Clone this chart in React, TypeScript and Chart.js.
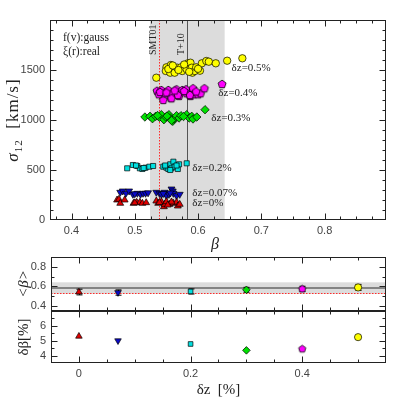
import React, { useEffect, useRef } from 'react';
import { Chart, registerables } from 'chart.js';
Chart.register(...registerables);

// ---------- Top panel data: sigma_12 vs beta ----------
const dz0Beta = [0.472, 0.475, 0.477, 0.484, 0.498, 0.503, 0.508, 0.512, 0.518, 0.534, 0.537, 0.542, 0.546, 0.547, 0.550, 0.555, 0.561, 0.566, 0.568, 0.571, 0.500, 0.539, 0.558, 0.552];
const dz0Sigma = [200, 207, 167, 200, 167, 177, 177, 167, 173, 190, 167, 183, 133, 157, 183, 157, 167, 177, 140, 157, 172, 175, 180, 150];

const dz007Beta = [0.477, 0.481, 0.486, 0.491, 0.497, 0.504, 0.509, 0.513, 0.517, 0.534, 0.539, 0.542, 0.547, 0.550, 0.554, 0.558, 0.560, 0.561, 0.566, 0.571, 0.500, 0.521, 0.545, 0.556];
const dz007Sigma = [277, 290, 267, 290, 257, 267, 257, 267, 267, 277, 267, 257, 277, 243, 257, 310, 290, 267, 243, 257, 262, 272, 265, 270];

const dz02Beta = [0.488, 0.497, 0.504, 0.508, 0.512, 0.517, 0.523, 0.529, 0.545, 0.550, 0.553, 0.556, 0.558, 0.561, 0.563, 0.568, 0.570, 0.582, 0.556, 0.548, 0.502, 0.514, 0.566];
const dz02Sigma = [517, 550, 540, 517, 510, 523, 533, 540, 533, 523, 510, 557, 517, 583, 533, 510, 557, 567, 500, 545, 545, 520, 545];

const dz03Beta = [0.516, 0.524, 0.528, 0.533, 0.539, 0.542, 0.546, 0.549, 0.554, 0.556, 0.560, 0.562, 0.566, 0.570, 0.573, 0.582, 0.586, 0.590, 0.592, 0.598, 0.611, 0.558, 0.577, 0.551, 0.536];
const dz03Sigma = [1030, 1037, 1013, 1037, 1027, 1053, 1003, 1030, 1053, 1020, 987, 1010, 1043, 1020, 1043, 1053, 1020, 1037, 1010, 1030, 1103, 995, 1035, 1040, 1045];

const dz04Beta = [0.535, 0.538, 0.542, 0.545, 0.547, 0.553, 0.557, 0.559, 0.566, 0.570, 0.575, 0.581, 0.582, 0.588, 0.592, 0.593, 0.600, 0.604, 0.610, 0.638, 0.540, 0.550, 0.558, 0.568, 0.587, 0.597, 0.578, 0.563];
const dz04Sigma = [1293, 1257, 1300, 1200, 1267, 1300, 1223, 1267, 1307, 1240, 1300, 1307, 1267, 1240, 1317, 1257, 1257, 1267, 1317, 1360, 1280, 1275, 1217, 1250, 1250, 1285, 1290, 1295];

const dz05Beta = [0.534, 0.550, 0.549, 0.557, 0.556, 0.563, 0.567, 0.573, 0.575, 0.582, 0.584, 0.588, 0.590, 0.591, 0.595, 0.597, 0.603, 0.606, 0.613, 0.617, 0.628, 0.646, 0.670, 0.553, 0.560, 0.578, 0.586, 0.600, 0.569];
const dz05Sigma = [1423, 1527, 1490, 1550, 1473, 1473, 1523, 1527, 1490, 1507, 1567, 1573, 1523, 1473, 1490, 1527, 1493, 1567, 1590, 1583, 1567, 1593, 1617, 1510, 1545, 1555, 1482, 1512, 1500];

// reference values
const T10Beta = 0.583;
const T10Err = 0.059;
const SMT01Beta = 0.538;

// group labels (anchored in data units)
const groupLabels = ['δz=0%', 'δz=0.07%', 'δz=0.2%', 'δz=0.3%', 'δz=0.4%', 'δz=0.5%'];
const groupLabelBeta = [0.591, 0.591, 0.591, 0.621, 0.632, 0.653];
const groupLabelSigma = [173, 273, 523, 1017, 1267, 1520];

// ---------- Lower panels ----------
const dzValues = [0, 0.07, 0.2, 0.3, 0.4, 0.5];
const meanBeta = [0.543, 0.538, 0.549, 0.566, 0.576, 0.590];
const meanBetaErr = [0.029, 0.027, 0.026, 0.025, 0.026, 0.031];
const deltaBeta = [5.3, 5.0, 4.78, 4.35, 4.46, 5.24];

// tick labels
const topXTicks = [0.4, 0.5, 0.6, 0.7, 0.8];
const topYTicks = [0, 500, 1000, 1500];
const midYTicks = [0.4, 0.6, 0.8];
const botYTicks = [4, 5, 6];
const botXTicks = [0, 0.2, 0.4];

const groupColors = ['#e00000', '#0a0ac8', '#00e0e0', '#00e000', '#ff00ff', '#ffff00'];

const SANS = '"Liberation Sans", Arial, sans-serif';
const SERIF = '"Liberation Serif", "Times New Roman", serif';
const FRAME = '#222';
const RED_DOT = '#ff2a2a';

function makePentagon(r: number, fill: string) {
  const size = Math.ceil(r * 2 + 3);
  const c = document.createElement('canvas');
  c.width = size;
  c.height = size;
  const ctx = c.getContext('2d')!;
  ctx.beginPath();
  for (let i = 0; i < 5; i++) {
    const a = -Math.PI / 2 + (i * 2 * Math.PI) / 5;
    const x = size / 2 + r * Math.cos(a);
    const y = size / 2 + 0.3 + r * Math.sin(a);
    if (i === 0) ctx.moveTo(x, y);
    else ctx.lineTo(x, y);
  }
  ctx.closePath();
  ctx.fillStyle = fill;
  ctx.fill();
  ctx.lineWidth = 0.8;
  ctx.strokeStyle = '#000';
  ctx.stroke();
  return c;
}

function range(a: number, b: number, step: number) {
  const out: number[] = [];
  const n = Math.round((b - a) / step);
  for (let i = 0; i <= n; i++) out.push(+(a + i * step).toFixed(6));
  return out;
}

function drawFrameTicks(chart: any, xMaj: number[], xMin: number[], yMaj: number[], yMin: number[]) {
  const { ctx, chartArea: a, scales } = chart;
  const xs = scales.x;
  const ys = scales.y;
  ctx.save();
  ctx.strokeStyle = FRAME;
  ctx.lineWidth = 1;
  ctx.beginPath();
  const seg = (x1: number, y1: number, x2: number, y2: number) => {
    ctx.moveTo(x1, y1);
    ctx.lineTo(x2, y2);
  };
  const L = Math.round(a.left) + 0.5;
  const R = Math.round(a.right) - 0.5;
  const T = Math.round(a.top) + 0.5;
  const B = Math.round(a.bottom) - 0.5;
  const xs2: [number[], number][] = [[xMaj, 6], [xMin, 3]];
  for (const [vals, len] of xs2) {
    for (const v of vals) {
      const px = Math.round(xs.getPixelForValue(v)) + 0.5;
      if (px <= L + 1 || px >= R - 1) continue;
      seg(px, B, px, B - len);
      seg(px, T, px, T + len);
    }
  }
  const ys2: [number[], number][] = [[yMaj, 6], [yMin, 3]];
  for (const [vals, len] of ys2) {
    for (const v of vals) {
      const py = Math.round(ys.getPixelForValue(v)) + 0.5;
      if (py <= T + 1 || py >= B - 1) continue;
      seg(L, py, L + len, py);
      seg(R, py, R - len, py);
    }
  }
  ctx.stroke();
  ctx.strokeRect(L, T, R - L, B - T);
  ctx.restore();
}

function fixedTicks(vals: number[]) {
  return (scale: any) => {
    scale.ticks = vals.map((v) => ({ value: v }));
  };
}

function fitW(w: number) {
  return (s: any) => {
    s.width = w;
    s.paddingTop = 0;
    s.paddingBottom = 0;
    s.paddingLeft = 0;
    s.paddingRight = 0;
  };
}
function fitH(h: number) {
  return (s: any) => {
    s.height = h;
    s.paddingTop = 0;
    s.paddingBottom = 0;
    s.paddingLeft = 0;
    s.paddingRight = 0;
  };
}

const tickFont = { family: SANS, size: 11 };
const tickColor = '#444';

export default function App() {
  const topRef = useRef<HTMLCanvasElement>(null);
  const midRef = useRef<HTMLCanvasElement>(null);
  const botRef = useRef<HTMLCanvasElement>(null);

  useEffect(() => {
    const pent = makePentagon(4.2, groupColors[4]);
    const pentSmall = makePentagon(3.8, groupColors[4]);

    const pts = (bs: number[], ss: number[]) => bs.map((b, i) => ({ x: b, y: ss[i] }));
    const common = { borderColor: '#000', borderWidth: 0.7 };

    // ---------- TOP CHART ----------
    const topPlugin = {
      id: 'topDeco',
      beforeDatasetsDraw(chart: any) {
        const { ctx, chartArea: a, scales } = chart;
        const xs = scales.x;
        ctx.save();
        const x1 = xs.getPixelForValue(T10Beta - T10Err);
        const x2 = xs.getPixelForValue(T10Beta + T10Err);
        ctx.fillStyle = '#dcdcdc';
        ctx.fillRect(x1, a.top, x2 - x1, a.bottom - a.top);
        const xt = Math.round(xs.getPixelForValue(T10Beta)) + 0.5;
        ctx.strokeStyle = '#555';
        ctx.lineWidth = 1;
        ctx.beginPath();
        ctx.moveTo(xt, a.top);
        ctx.lineTo(xt, a.bottom);
        ctx.stroke();
        const xsm = Math.round(xs.getPixelForValue(SMT01Beta)) + 0.5;
        ctx.strokeStyle = RED_DOT;
        ctx.setLineDash([1.5, 1.5]);
        ctx.beginPath();
        ctx.moveTo(xsm, a.top);
        ctx.lineTo(xsm, a.bottom);
        ctx.stroke();
        ctx.setLineDash([]);
        // vertical labels
        ctx.fillStyle = '#222';
        ctx.font = `10px ${SERIF}`;
        ctx.textAlign = 'left';
        ctx.textBaseline = 'bottom';
        ctx.save();
        ctx.translate(xsm - 1, a.top + 35);
        ctx.rotate(-Math.PI / 2);
        ctx.fillText('SMT01', 0, 0);
        ctx.restore();
        ctx.save();
        ctx.translate(xt - 1, a.top + 35);
        ctx.rotate(-Math.PI / 2);
        ctx.fillText('T+10', 0, 0);
        ctx.restore();
        ctx.restore();
      },
      afterDatasetsDraw(chart: any) {
        const { ctx, chartArea: a, scales } = chart;
        ctx.save();
        ctx.fillStyle = '#222';
        ctx.font = `11px ${SERIF}`;
        ctx.textAlign = 'left';
        ctx.textBaseline = 'middle';
        groupLabels.forEach((t, i) => {
          ctx.fillText(t, scales.x.getPixelForValue(groupLabelBeta[i]), scales.y.getPixelForValue(groupLabelSigma[i]));
        });
        ctx.font = `11.5px ${SERIF}`;
        ctx.fillText('f(v):gauss', a.left + 13, a.top + 18);
        ctx.fillText('ξ(r):real', a.left + 13, a.top + 32);
        ctx.restore();
      },
      afterDraw(chart: any) {
        const { ctx, chartArea: a } = chart;
        drawFrameTicks(chart, topXTicks, range(0.375, 0.9, 0.025), topYTicks, range(0, 2000, 100));
        ctx.save();
        ctx.fillStyle = '#222';
        // y title
        ctx.save();
        ctx.translate(18, (a.top + a.bottom) / 2);
        ctx.rotate(-Math.PI / 2);
        ctx.textBaseline = 'alphabetic';
        ctx.textAlign = 'left';
        try { (ctx as any).letterSpacing = '1px'; } catch (e) {}
        ctx.font = `italic 17px ${SERIF}`;
        const w1 = ctx.measureText('σ').width;
        ctx.font = `11px ${SERIF}`;
        const w2 = ctx.measureText('12').width;
        ctx.font = `17px ${SERIF}`;
        const w3 = ctx.measureText('  [km/s]').width;
        let x0 = -(w1 + w2 + w3) / 2;
        ctx.font = `italic 17px ${SERIF}`;
        ctx.fillText('σ', x0, 0);
        x0 += w1;
        ctx.font = `11px ${SERIF}`;
        ctx.fillText('12', x0, 4);
        x0 += w2;
        ctx.font = `17px ${SERIF}`;
        ctx.fillText('  [km/s]', x0, 0);
        try { (ctx as any).letterSpacing = '0px'; } catch (e) {}
        ctx.restore();
        // x title
        ctx.font = `italic 16px ${SERIF}`;
        ctx.textAlign = 'center';
        ctx.textBaseline = 'middle';
        ctx.fillText('β', (a.left + a.right) / 2 - 3, 245);
        ctx.restore();
      },
    };

    const top = new Chart(topRef.current!, {
      type: 'scatter',
      data: {
        datasets: [
          { data: pts(dz0Beta, dz0Sigma), pointStyle: 'triangle', pointRadius: 4, backgroundColor: groupColors[0], ...common },
          { data: pts(dz007Beta, dz007Sigma), pointStyle: 'triangle', pointRotation: 180, pointRadius: 4, backgroundColor: groupColors[1], ...common },
          { data: pts(dz02Beta, dz02Sigma), pointStyle: 'rect', pointRadius: 3.6, backgroundColor: groupColors[2], ...common },
          { data: pts(dz03Beta, dz03Sigma), pointStyle: 'rectRot', pointRadius: 4.2, backgroundColor: groupColors[3], ...common },
          { data: pts(dz04Beta, dz04Sigma), pointStyle: pent as any, pointRadius: 4, backgroundColor: groupColors[4], ...common },
          { data: pts(dz05Beta, dz05Sigma), pointStyle: 'circle', pointRadius: 3.7, backgroundColor: groupColors[5], ...common },
        ] as any,
      },
      options: {
        responsive: false,
        animation: false,
        devicePixelRatio: 1,
        layout: { autoPadding: false, padding: { left: 0, top: 20, right: 21, bottom: 0 } },
        plugins: { legend: { display: false }, tooltip: { enabled: false } },
        scales: {
          x: {
            type: 'linear',
            min: 0.366,
            max: 0.897,
            afterBuildTicks: fixedTicks(topXTicks),
            afterFit: fitH(32),
            grid: { display: false, drawTicks: false },
            border: { display: false },
            ticks: { font: tickFont, color: tickColor, padding: 4, maxRotation: 0, autoSkip: false, callback: (v: any) => String(v) },
          },
          y: {
            type: 'linear',
            min: 0,
            max: 2000,
            afterBuildTicks: fixedTicks(topYTicks),
            afterFit: fitW(50),
            grid: { display: false, drawTicks: false },
            border: { display: false },
            ticks: { font: tickFont, color: tickColor, padding: 5, autoSkip: false, callback: (v: any) => String(v) },
          },
        },
      } as any,
      plugins: [topPlugin],
    });

    // ---------- shared lower-panel styles ----------
    const lowStyles = ['triangle', 'triangle', 'rect', 'rectRot', pentSmall, 'circle'];
    const lowRot = [0, 180, 0, 0, 0, 0];
    const lowRadius = [3.8, 3.8, 3.3, 3.8, 3.6, 3.6];
    const xMinor = range(-0.05, 0.55, 0.05);

    // ---------- MID CHART ----------
    const midPlugin = {
      id: 'midDeco',
      beforeDatasetsDraw(chart: any) {
        const { ctx, chartArea: a, scales } = chart;
        const ys = scales.y;
        ctx.save();
        ctx.beginPath();
        ctx.rect(a.left, a.top, a.right - a.left, a.bottom - a.top);
        ctx.clip();
        const y1 = ys.getPixelForValue(T10Beta + T10Err);
        const y2 = ys.getPixelForValue(T10Beta - T10Err);
        ctx.fillStyle = '#dcdcdc';
        ctx.fillRect(a.left, y1, a.right - a.left, y2 - y1);
        const yt = ys.getPixelForValue(T10Beta);
        ctx.strokeStyle = '#666';
        ctx.lineWidth = 1.5;
        ctx.beginPath();
        ctx.moveTo(a.left, yt);
        ctx.lineTo(a.right, yt);
        ctx.stroke();
        const ysm = Math.round(ys.getPixelForValue(SMT01Beta)) + 0.5;
        ctx.strokeStyle = RED_DOT;
        ctx.lineWidth = 1;
        ctx.setLineDash([1.5, 1.5]);
        ctx.beginPath();
        ctx.moveTo(a.left, ysm);
        ctx.lineTo(a.right, ysm);
        ctx.stroke();
        ctx.setLineDash([]);
        // error bars
        ctx.strokeStyle = '#000';
        ctx.lineWidth = 1;
        ctx.beginPath();
        dzValues.forEach((d, i) => {
          const px = Math.round(scales.x.getPixelForValue(d)) + 0.5;
          const yl = ys.getPixelForValue(meanBeta[i] - meanBetaErr[i]);
          const yh = ys.getPixelForValue(meanBeta[i] + meanBetaErr[i]);
          ctx.moveTo(px, yl);
          ctx.lineTo(px, yh);
          ctx.moveTo(px - 3, yl);
          ctx.lineTo(px + 3, yl);
          ctx.moveTo(px - 3, yh);
          ctx.lineTo(px + 3, yh);
        });
        ctx.stroke();
        ctx.restore();
      },
      afterDraw(chart: any) {
        const { ctx, chartArea: a } = chart;
        drawFrameTicks(chart, botXTicks, xMinor, midYTicks, range(0.4, 0.9, 0.1));
        ctx.save();
        ctx.fillStyle = '#222';
        ctx.translate(24, (a.top + a.bottom) / 2);
        ctx.rotate(-Math.PI / 2);
        ctx.textAlign = 'center';
        ctx.textBaseline = 'middle';
        ctx.font = `italic 15px ${SERIF}`;
        ctx.fillText('<β>', 0, 0);
        ctx.restore();
      },
    };

    const mid = new Chart(midRef.current!, {
      type: 'scatter',
      data: {
        datasets: [
          {
            data: dzValues.map((d, i) => ({ x: d, y: meanBeta[i] })),
            pointStyle: lowStyles,
            pointRotation: lowRot,
            pointRadius: lowRadius,
            backgroundColor: groupColors,
            borderColor: '#000',
            borderWidth: 0.7,
          },
        ] as any,
      },
      options: {
        responsive: false,
        animation: false,
        devicePixelRatio: 1,
        layout: { autoPadding: false, padding: { left: 0, top: 5, right: 21, bottom: 0 } },
        plugins: { legend: { display: false }, tooltip: { enabled: false } },
        scales: {
          x: {
            type: 'linear',
            min: -0.05,
            max: 0.55,
            afterBuildTicks: fixedTicks(botXTicks),
            grid: { display: false, drawTicks: false },
            border: { display: false },
            ticks: { display: false },
            afterFit: fitH(96),
          },
          y: {
            type: 'linear',
            min: 0.35,
            max: 0.9,
            afterBuildTicks: fixedTicks(midYTicks),
            afterFit: fitW(51),
            grid: { display: false, drawTicks: false },
            border: { display: false },
            ticks: { font: tickFont, color: tickColor, padding: 5, autoSkip: false, callback: (v: any) => String(v) },
          },
        },
      } as any,
      plugins: [midPlugin],
    });

    // ---------- BOTTOM CHART ----------
    const botPlugin = {
      id: 'botDeco',
      afterDraw(chart: any) {
        const { ctx, chartArea: a } = chart;
        drawFrameTicks(chart, botXTicks, xMinor, botYTicks, range(3.5, 7, 0.5));
        ctx.save();
        ctx.fillStyle = '#222';
        ctx.save();
        ctx.translate(24, (a.top + a.bottom) / 2);
        ctx.rotate(-Math.PI / 2);
        ctx.textAlign = 'center';
        ctx.textBaseline = 'middle';
        ctx.font = `15px ${SERIF}`;
        ctx.fillText('δβ[%]', 0, 0);
        ctx.restore();
        ctx.textAlign = 'center';
        ctx.textBaseline = 'middle';
        ctx.font = `15px ${SERIF}`;
        ctx.fillText('δz  [%]', (a.left + a.right) / 2, a.bottom + 27);
        ctx.restore();
      },
    };

    const bot = new Chart(botRef.current!, {
      type: 'scatter',
      data: {
        datasets: [
          {
            data: dzValues.map((d, i) => ({ x: d, y: deltaBeta[i] })),
            pointStyle: lowStyles,
            pointRotation: lowRot,
            pointRadius: lowRadius,
            backgroundColor: groupColors,
            borderColor: '#000',
            borderWidth: 0.7,
          },
        ] as any,
      },
      options: {
        responsive: false,
        animation: false,
        devicePixelRatio: 1,
        layout: { autoPadding: false, padding: { left: 0, top: 59, right: 21, bottom: 0 } },
        plugins: { legend: { display: false }, tooltip: { enabled: false } },
        scales: {
          x: {
            type: 'linear',
            min: -0.05,
            max: 0.55,
            afterBuildTicks: fixedTicks(botXTicks),
            grid: { display: false, drawTicks: false },
            border: { display: false },
            afterFit: fitH(44),
            ticks: { font: tickFont, color: tickColor, padding: 4, maxRotation: 0, autoSkip: false, callback: (v: any) => String(v) },
          },
          y: {
            type: 'linear',
            min: 3.5,
            max: 7,
            afterBuildTicks: fixedTicks(botYTicks),
            afterFit: fitW(51),
            grid: { display: false, drawTicks: false },
            border: { display: false },
            ticks: { font: tickFont, color: tickColor, padding: 5, autoSkip: false, callback: (v: any) => String(v) },
          },
        },
      } as any,
      plugins: [botPlugin],
    });

    return () => {
      top.destroy();
      mid.destroy();
      bot.destroy();
    };
  }, []);

  return (
    <div style={{ position: 'fixed', left: 0, top: 0, width: 407, height: 407, background: '#fff' }}>
      <canvas ref={topRef} width={407} height={252} style={{ position: 'absolute', left: 0, top: 0, width: 407, height: 252 }} />
      <canvas ref={midRef} width={407} height={155} style={{ position: 'absolute', left: 0, top: 252, width: 407, height: 155 }} />
      <canvas ref={botRef} width={407} height={155} style={{ position: 'absolute', left: 0, top: 252, width: 407, height: 155 }} />
    </div>
  );
}
